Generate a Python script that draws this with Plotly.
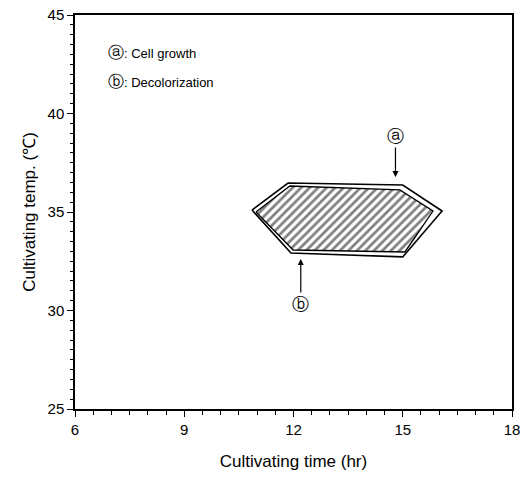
import plotly.graph_objects as go

# Region boundaries (time in hr, temperature in °C)
cell_time = [10.86, 11.85, 15.0, 16.08, 15.0, 11.93, 10.86]
cell_temp = [35.10, 36.47, 36.37, 35.05, 32.72, 32.92, 35.10]

decol_time = [10.97, 11.90, 14.92, 15.83, 15.06, 11.99, 10.97]
decol_temp = [35.00, 36.32, 36.12, 35.05, 32.97, 33.07, 35.00]

x_ticks = [6, 9, 12, 15, 18]
y_ticks = [25, 30, 35, 40, 45]

fig = go.Figure()

fig.add_trace(go.Scatter(
    x=cell_time, y=cell_temp, mode="lines",
    line=dict(color="black", width=1.6),
    fill="toself", fillcolor="white",
    hoverinfo="skip", showlegend=False,
))
fig.add_trace(go.Scatter(
    x=decol_time, y=decol_temp, mode="lines",
    line=dict(color="black", width=1.3),
    fill="toself", fillcolor="white",
    fillpattern=dict(shape="/", fgcolor="black", bgcolor="white", size=6, solidity=0.45),
    hoverinfo="skip", showlegend=False,
))

font_main = "Liberation Sans, Arial, sans-serif"

# arrows with circled labels
fig.add_annotation(x=14.8, y=36.78, ax=14.8, ay=38.86, axref="x", ayref="y",
                   text="ⓐ", showarrow=True, arrowhead=2, arrowsize=1, arrowwidth=1.2,
                   arrowcolor="black", font=dict(size=17, color="black", family="DejaVu Sans"))
fig.add_annotation(x=12.2, y=32.61, ax=12.2, ay=30.33, axref="x", ayref="y",
                   text="ⓑ", showarrow=True, arrowhead=2, arrowsize=1, arrowwidth=1.2,
                   arrowcolor="black", font=dict(size=17, color="black", family="DejaVu Sans"))

# key text
fig.add_annotation(x=6.85, y=43.1, xanchor="left", yanchor="middle", showarrow=False,
                   text="<span style='font-size:16px;font-family:DejaVu Sans'>ⓐ</span>: Cell growth",
                   font=dict(size=13, color="black", family=font_main))
fig.add_annotation(x=6.85, y=41.65, xanchor="left", yanchor="middle", showarrow=False,
                   text="<span style='font-size:16px;font-family:DejaVu Sans'>ⓑ</span>: Decolorization",
                   font=dict(size=13, color="black", family=font_main))

fig.update_layout(
    width=523, height=493,
    margin=dict(l=75, r=11, t=15, b=84),
    paper_bgcolor="white", plot_bgcolor="white",
    font=dict(family=font_main, color="black", size=14),
    xaxis=dict(
        range=[6, 18], tickvals=x_ticks, ticktext=[str(v) for v in x_ticks],
        ticks="outside", ticklen=6, tickcolor="black", tickwidth=1,
        minor=dict(dtick=0.5, tick0=6, ticks="outside", ticklen=4, tickcolor="black"),
        showline=True, linecolor="black", linewidth=1.5, mirror=True,
        showgrid=False, zeroline=False, automargin=False,
        title=dict(text="Cultivating time (hr)", font=dict(size=17), standoff=18),
        tickfont=dict(size=15),
    ),
    yaxis=dict(
        range=[25, 45], tickvals=y_ticks, ticktext=[str(v) for v in y_ticks],
        ticks="outside", ticklen=6, tickcolor="black", tickwidth=1,
        minor=dict(dtick=0.5, tick0=25, ticks="outside", ticklen=3, tickcolor="black"),
        showline=True, linecolor="black", linewidth=1.5, mirror=True,
        showgrid=False, zeroline=False, automargin=False,
        title=dict(text="Cultivating temp. (℃)", font=dict(size=17), standoff=8),
        tickfont=dict(size=15),
    ),
)

fig.write_html("out.html")
